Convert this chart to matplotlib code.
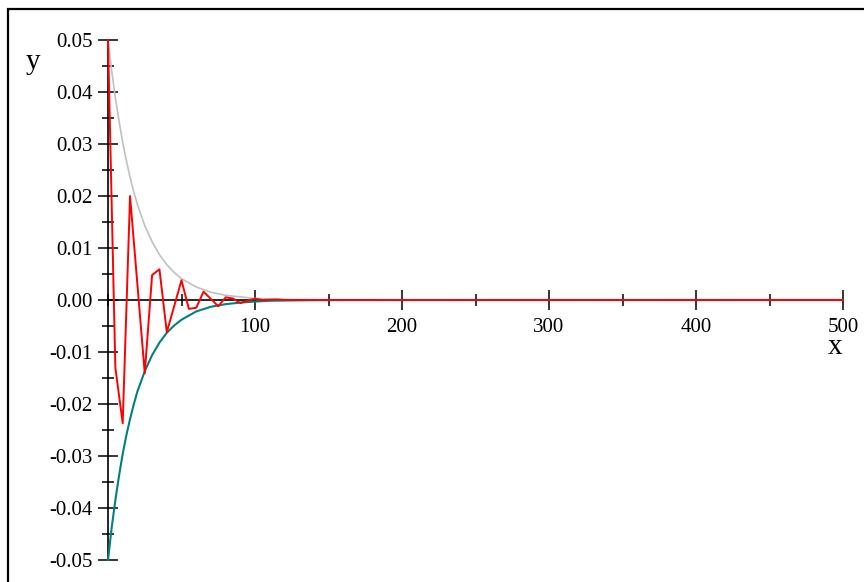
import numpy as np
import matplotlib.pyplot as plt
from matplotlib.patches import Rectangle
from matplotlib.ticker import MultipleLocator

# red samples
x_red = [0, 5, 10, 15, 20, 25, 30, 35, 40, 45, 50, 55, 60, 65, 70, 75, 80, 85, 90,
         95, 100, 105, 110, 115, 120, 130, 500]
y_red = [0.05, -0.013, -0.0237, 0.02, 0.003, -0.0141, 0.0048, 0.0059, -0.0062, -0.0012,
         0.0038, -0.0017, -0.0015, 0.0016, 0.0002, -0.0012, 0.0005, 0.0003, -0.0006,
         -0.0001, 0.00025, 0.0, 0.00005, 0.0001, 0.0, 0.0, 0.0]

# envelope curves (upper grey, lower teal)
x_env = [0, 2.5, 5, 7.5, 10, 12.5, 15, 17.5, 20, 25, 30, 35, 40, 45, 50, 60, 70, 80,
         90, 100, 110, 120, 140, 160, 500]
y_up = [0.05, 0.0441, 0.0389, 0.0344, 0.0303, 0.0268, 0.0236, 0.0208, 0.0184, 0.0143,
        0.0112, 0.0087, 0.0068, 0.0053, 0.0041, 0.0025, 0.0015, 0.0009, 0.0006, 0.0003,
        0.0002, 0.0001, 0.00005, 0.00002, 0.0]
y_low = [-0.05, -0.0438, -0.0385, -0.0338, -0.0296, -0.026, -0.0229, -0.0201, -0.0176,
         -0.0137, -0.0106, -0.0082, -0.0063, -0.0049, -0.0038, -0.0022, -0.0013, -0.0008,
         -0.0005, -0.0003, -0.00015, -0.0001, -0.00004, -0.00001, 0.0]

plt.rcParams['font.family'] = ['Liberation Serif', 'DejaVu Serif']

fig = plt.figure(figsize=(8.64, 5.82), dpi=100)
ax = fig.add_axes([108 / 864, 1 - 560 / 582, (843 - 108) / 864, 520 / 582])

ax.plot(x_env, y_up, color='#c0c0c0', lw=1.2, clip_on=False, zorder=2)
ax.plot(x_env, y_low, color='#008080', lw=1.5, clip_on=False, zorder=2)
ax.plot(x_red, y_red, color='red', lw=1.4, clip_on=False, zorder=3)

ax.set_xlim(0, 500)
ax.set_ylim(-0.05, 0.05)

ax.spines['left'].set_position(('data', 0))
ax.spines['bottom'].set_position(('data', 0))
ax.spines['top'].set_visible(False)
ax.spines['right'].set_visible(False)
for s in ['left', 'bottom']:
    ax.spines[s].set_linewidth(1.2)
    ax.spines[s].set_zorder(1)

ax.xaxis.set_minor_locator(MultipleLocator(50))
ax.yaxis.set_major_locator(MultipleLocator(0.01))
ax.yaxis.set_minor_locator(MultipleLocator(0.005))
ax.set_xticks([100, 200, 300, 400, 500])
ax.tick_params(which='major', direction='inout', length=14, width=1.1, labelsize=15)
ax.tick_params(which='minor', direction='inout', length=8, width=1.1)
ax.tick_params(axis='y', pad=4)
ax.tick_params(axis='x', pad=6)
ax.yaxis.set_major_formatter(plt.FuncFormatter(lambda v, p: f"{v:.2f}" if abs(v) > 1e-9 else "0.00"))

fig.text(33 / 864, 1 - 62 / 582, 'y', fontsize=21, ha='center', va='center')
fig.text(835 / 864, 1 - 347 / 582, 'x', fontsize=21, ha='center', va='center')

# outer frame
fig.patches.append(Rectangle((8 / 864, -0.1), 1.2, 1.1 - 9 / 582, transform=fig.transFigure,
                             fill=False, edgecolor='black', lw=1.6))

fig.savefig('out.png', dpi=100)
